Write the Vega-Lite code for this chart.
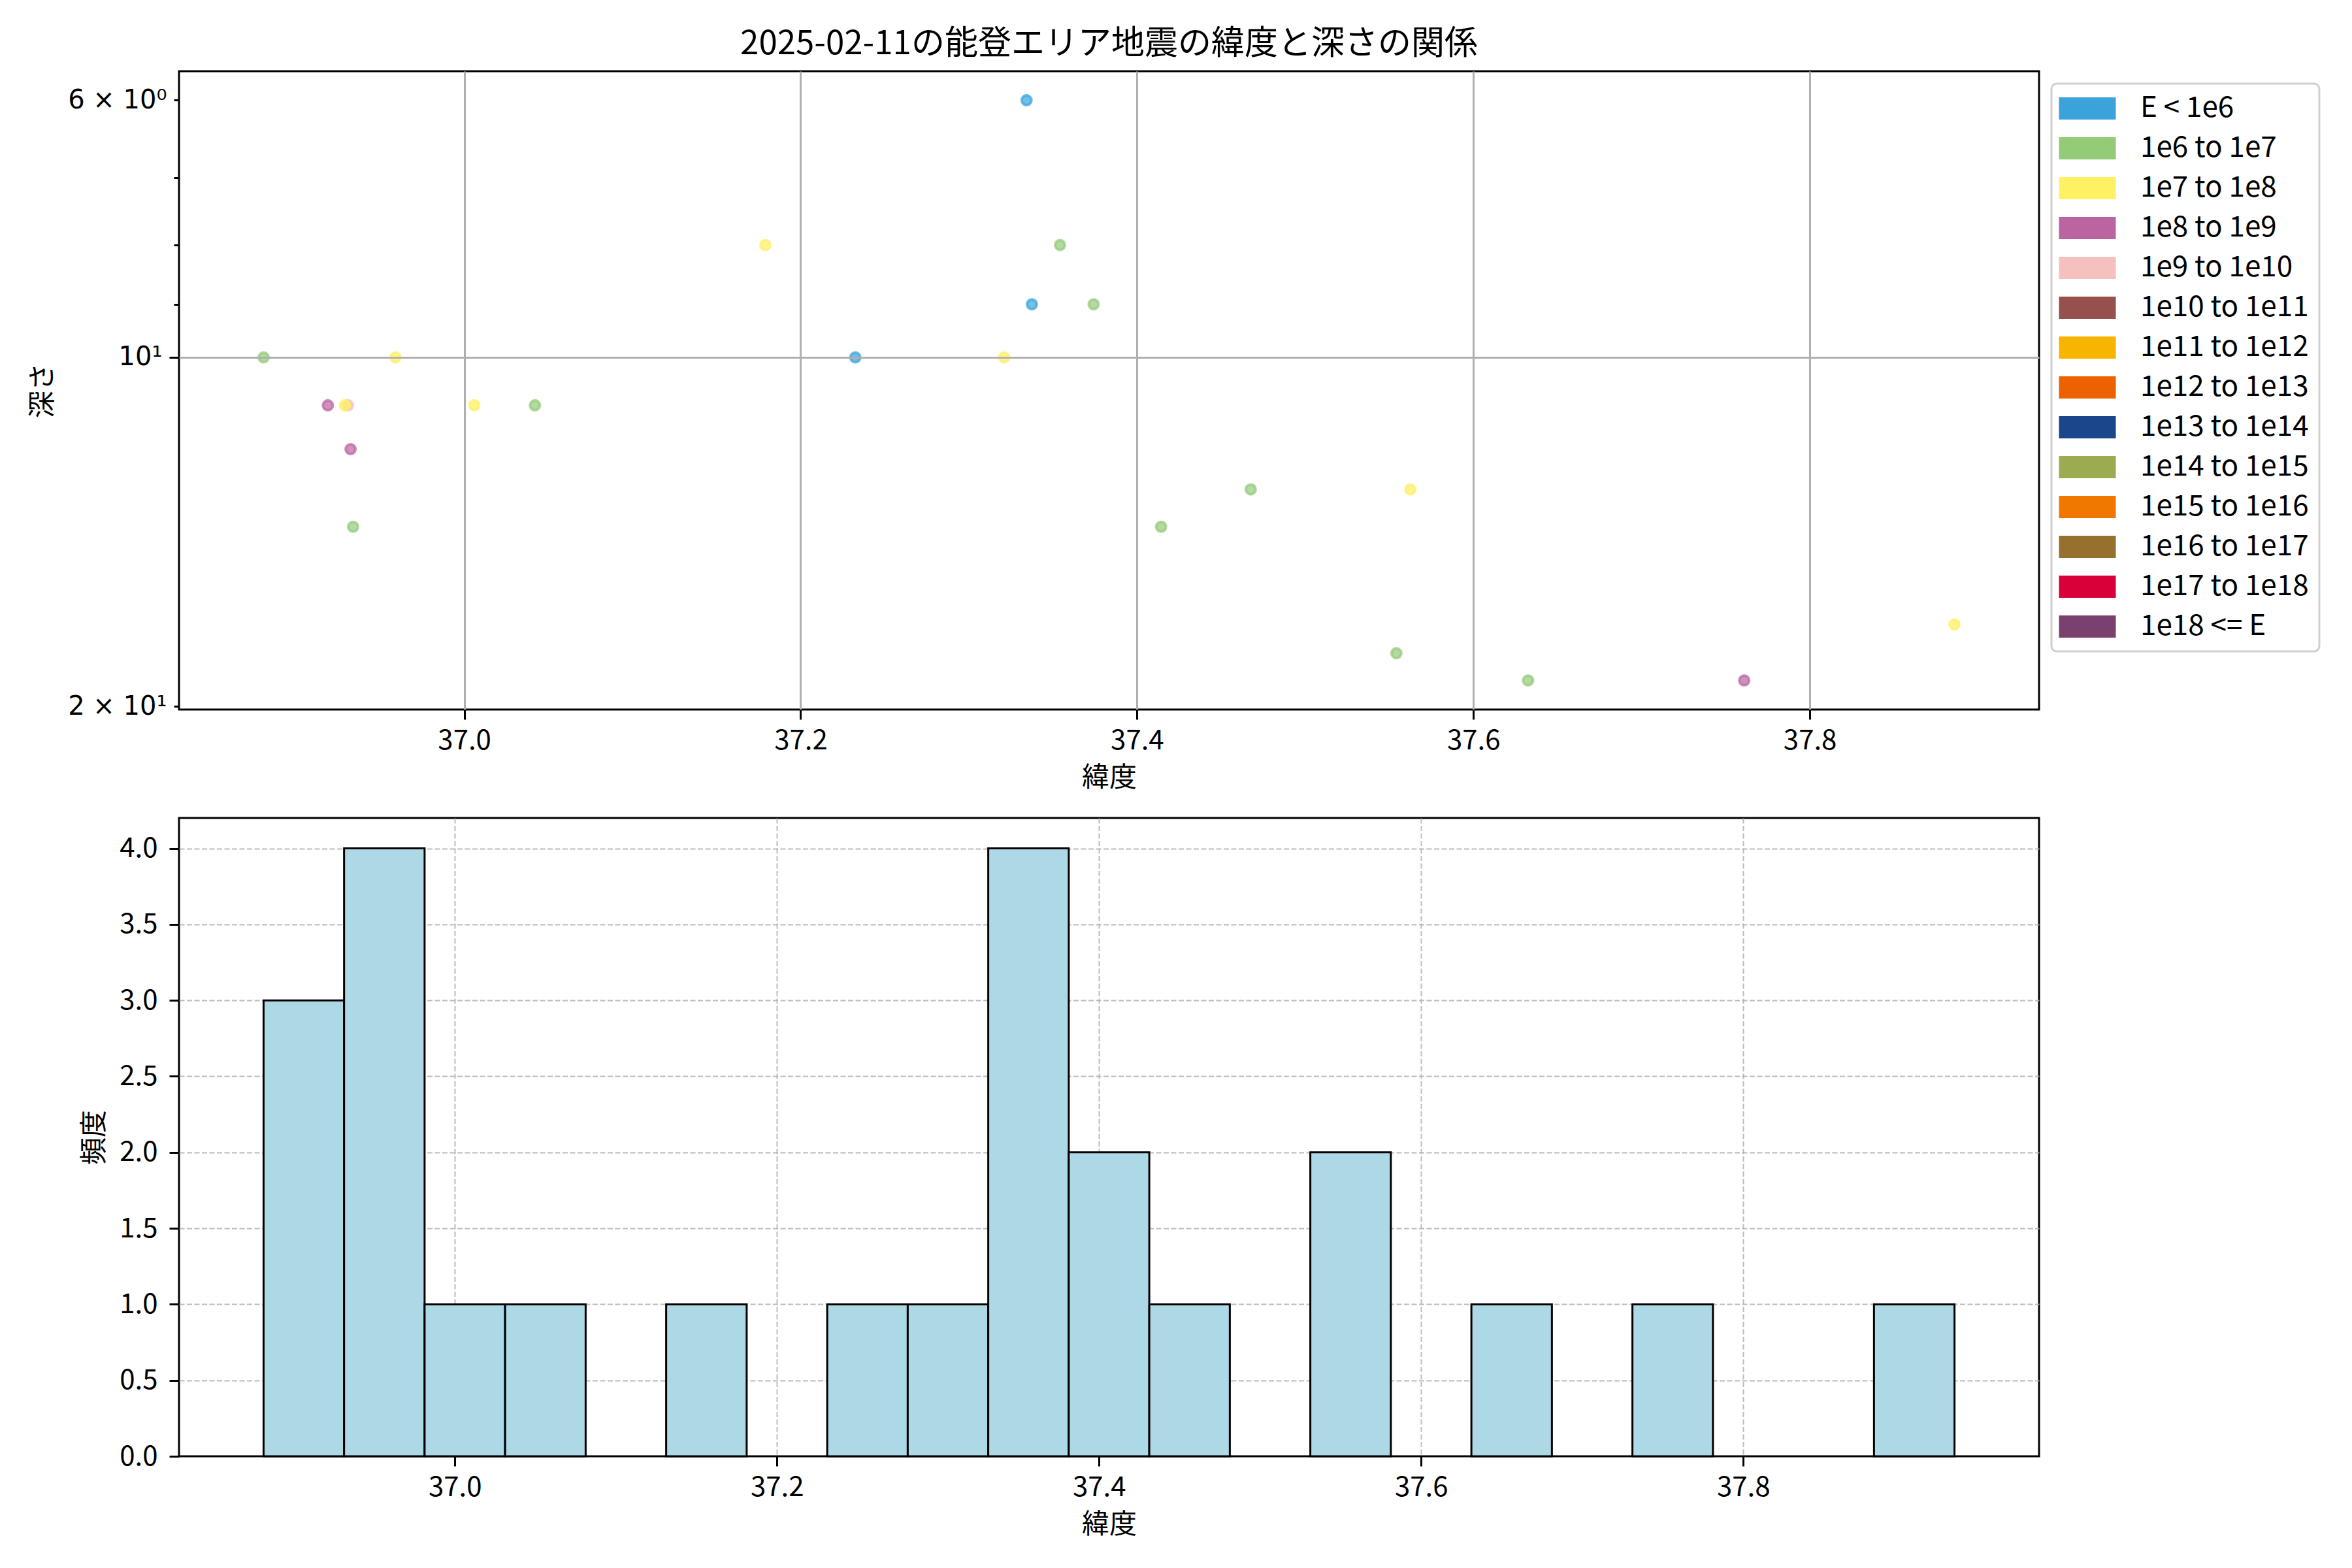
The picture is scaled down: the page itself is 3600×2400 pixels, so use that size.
{
  "$schema": "https://vega.github.io/schema/vega-lite/v6.json",
  "background": "white",
  "padding": {"left": 43, "top": 40, "right": 30, "bottom": 20},
  "config": {
    "font": "Noto Sans CJK JP",
    "view": {"stroke": "black", "strokeWidth": 3, "fill": "white"},
    "legend": {"strokeWidth": 3},
    "axis": {
      "domain": false,
      "tickColor": "black",
      "tickWidth": 3,
      "tickSize": 15,
      "labelFont": "Noto Sans CJK JP",
      "labelFontSize": 42,
      "labelColor": "black",
      "labelPadding": 12,
      "labelFlush": false,
      "labelOverlap": false,
      "titleFont": "Noto Sans CJK JP",
      "titleFontSize": 42,
      "titleFontWeight": "normal",
      "titleColor": "black",
      "titlePadding": 16,
      "gridColor": "#b0b0b0",
      "gridWidth": 3
    }
  },
  "datasets": {
    "quakes": [
      {"lat": 37.3343, "depth": 6, "energy": "E < 1e6"},
      {"lat": 37.1790, "depth": 8, "energy": "1e7 to 1e8"},
      {"lat": 37.3542, "depth": 8, "energy": "1e6 to 1e7"},
      {"lat": 37.3375, "depth": 9, "energy": "E < 1e6"},
      {"lat": 37.3742, "depth": 9, "energy": "1e6 to 1e7"},
      {"lat": 36.8807, "depth": 10, "energy": "1e6 to 1e7"},
      {"lat": 36.9591, "depth": 10, "energy": "1e7 to 1e8"},
      {"lat": 37.2325, "depth": 10, "energy": "E < 1e6"},
      {"lat": 37.3210, "depth": 10, "energy": "1e7 to 1e8"},
      {"lat": 36.9189, "depth": 11, "energy": "1e8 to 1e9"},
      {"lat": 36.9309, "depth": 11, "energy": "1e9 to 1e10"},
      {"lat": 36.9290, "depth": 11, "energy": "1e7 to 1e8"},
      {"lat": 37.0060, "depth": 11, "energy": "1e7 to 1e8"},
      {"lat": 37.0420, "depth": 11, "energy": "1e6 to 1e7"},
      {"lat": 36.9324, "depth": 12, "energy": "1e8 to 1e9"},
      {"lat": 37.4676, "depth": 13, "energy": "1e6 to 1e7"},
      {"lat": 37.5625, "depth": 13, "energy": "1e7 to 1e8"},
      {"lat": 36.9339, "depth": 14, "energy": "1e6 to 1e7"},
      {"lat": 37.4143, "depth": 14, "energy": "1e6 to 1e7"},
      {"lat": 37.8860, "depth": 17, "energy": "1e7 to 1e8"},
      {"lat": 37.5542, "depth": 18, "energy": "1e6 to 1e7"},
      {"lat": 37.6325, "depth": 19, "energy": "1e6 to 1e7"},
      {"lat": 37.7610, "depth": 19, "energy": "1e8 to 1e9"}
    ],
    "hist": [
      {"start": 36.8812, "end": 36.9312, "count": 3},
      {"start": 36.9312, "end": 36.9812, "count": 4},
      {"start": 36.9812, "end": 37.0312, "count": 1},
      {"start": 37.0312, "end": 37.0812, "count": 1},
      {"start": 37.1312, "end": 37.1812, "count": 1},
      {"start": 37.2312, "end": 37.2812, "count": 1},
      {"start": 37.2812, "end": 37.3312, "count": 1},
      {"start": 37.3312, "end": 37.3812, "count": 4},
      {"start": 37.3812, "end": 37.4312, "count": 2},
      {"start": 37.4312, "end": 37.4812, "count": 1},
      {"start": 37.5312, "end": 37.5812, "count": 2},
      {"start": 37.6312, "end": 37.6812, "count": 1},
      {"start": 37.7312, "end": 37.7812, "count": 1},
      {"start": 37.8812, "end": 37.9312, "count": 1}
    ]
  },
  "bounds": "flush",
  "spacing": 166,
  "vconcat": [
    {
      "title": {
        "text": "2025-02-11の能登エリア地震の緯度と深さの関係",
        "font": "Noto Sans CJK JP",
        "fontSize": 51,
        "fontWeight": "normal",
        "color": "black",
        "anchor": "middle",
        "frame": "group",
        "offset": 15
      },
      "width": 2847,
      "height": 977,
      "data": {"name": "quakes"},
      "mark": {"type": "circle", "size": 227, "opacity": 1, "fillOpacity": 0.7, "strokeOpacity": 0.7, "strokeWidth": 4},
      "encoding": {
        "x": {
          "field": "lat", "type": "quantitative",
          "scale": {"domain": [36.8304, 37.9363], "nice": false, "zero": false},
          "axis": {"title": "緯度", "values": [37.0, 37.2, 37.4, 37.6, 37.8], "format": ".1f", "grid": true, "zindex": 1}
        },
        "y": {
          "field": "depth", "type": "quantitative",
          "scale": {"type": "log", "domain": [5.664, 20.13], "reverse": true, "nice": false, "zero": false},
          "axis": {
            "title": "深さ",
            "values": [6, 7, 8, 9, 10, 20],
            "labelExpr": "datum.value == 6 ? '6 × 10⁰' : datum.value == 10 ? '10¹' : datum.value == 20 ? '2 × 10¹' : ''",
            "labelFont": "DejaVu Sans",
            "labelFontSize": 40,
            "grid": true,
            "gridOpacity": {"condition": {"test": "datum.value == 10", "value": 1}, "value": 0},
            "tickSize": {"condition": {"test": "datum.value == 10", "value": 15}, "value": 8},
            "labelPadding": 11,
            "zindex": 1
          }
        },
        "fill": {
          "field": "energy", "type": "nominal",
          "scale": {
            "domain": ["E < 1e6", "1e6 to 1e7", "1e7 to 1e8", "1e8 to 1e9", "1e9 to 1e10", "1e10 to 1e11", "1e11 to 1e12", "1e12 to 1e13", "1e13 to 1e14", "1e14 to 1e15", "1e15 to 1e16", "1e16 to 1e17", "1e17 to 1e18", "1e18 <= E"],
            "range": ["#3ba2dc", "#93cb77", "#fff064", "#bb64a2", "#f6c0be", "#96514e", "#f7b500", "#ec6100", "#1b468c", "#9bab4f", "#f07700", "#96702d", "#d9003a", "#7a416e"]
          },
          "legend": {
            "title": null,
            "orient": "none",
            "legendX": 2866,
            "legendY": 19,
            "symbolType": "M-2.56,-1H2.56V1H-2.56Z",
            "symbolSize": 1156,
            "symbolOffset": 17,
            "symbolOpacity": 1,
            "symbolStrokeWidth": 0,
            "labelFont": "Noto Sans CJK JP",
            "labelFontSize": 44,
            "labelColor": "black",
            "labelLimit": 600,
            "labelOffset": 59,
            "rowPadding": 17,
            "padding": 16,
            "strokeColor": "#d0d0d0",
            "cornerRadius": 8,
            "fillColor": "white",
            "symbolLimit": 0
          }
        },
        "stroke": {
          "field": "energy", "type": "nominal",
          "scale": {
            "domain": ["E < 1e6", "1e6 to 1e7", "1e7 to 1e8", "1e8 to 1e9", "1e9 to 1e10", "1e10 to 1e11", "1e11 to 1e12", "1e12 to 1e13", "1e13 to 1e14", "1e14 to 1e15", "1e15 to 1e16", "1e16 to 1e17", "1e17 to 1e18", "1e18 <= E"],
            "range": ["#3ba2dc", "#93cb77", "#fff064", "#bb64a2", "#f6c0be", "#96514e", "#f7b500", "#ec6100", "#1b468c", "#9bab4f", "#f07700", "#96702d", "#d9003a", "#7a416e"]
          },
          "legend": null
        }
      }
    },
    {
      "width": 2847,
      "height": 977,
      "data": {"name": "hist"},
      "mark": {"type": "rect", "fill": "#add8e6", "stroke": "black", "strokeWidth": 3},
      "encoding": {
        "x": {
          "field": "start", "type": "quantitative",
          "scale": {"domain": [36.8287, 37.9837], "nice": false, "zero": false},
          "axis": {"title": "緯度", "values": [37.0, 37.2, 37.4, 37.6, 37.8], "format": ".1f", "grid": true, "gridDash": [8, 3.5], "gridWidth": 2, "gridOpacity": 0.85}
        },
        "x2": {"field": "end"},
        "y": {
          "field": "count", "type": "quantitative",
          "scale": {"domain": [0, 4.2], "nice": false},
          "axis": {"title": "頻度", "values": [0, 0.5, 1, 1.5, 2, 2.5, 3, 3.5, 4], "format": ".1f", "grid": true, "gridDash": [8, 3.5], "gridWidth": 2, "gridOpacity": {"condition": {"test": "datum.value == 0", "value": 0}, "value": 0.85}, "labelPadding": 18}
        },
        "y2": {"datum": 0}
      }
    }
  ]
}
